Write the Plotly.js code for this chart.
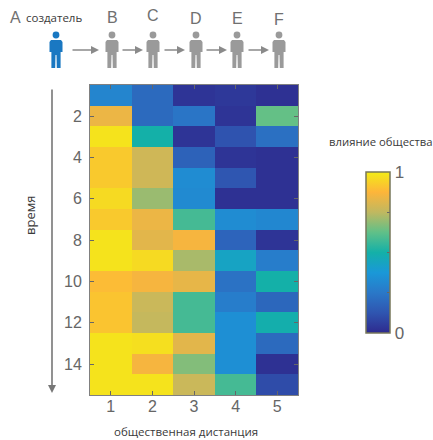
<!DOCTYPE html>
<html><head><meta charset="utf-8">
<script src="https://cdn.plot.ly/plotly-3.0.1.min.js"></script>
<style>html,body{margin:0;padding:0;background:#fff}#c{width:433px;height:440px}</style></head>
<body><div id="c"></div>
<script>
const distance = [1,2,3,4,5];
const time = [1,2,3,4,5,6,7,8,9,10,11,12,13,14,15];
const influence = [
 [0.30,0.20,0.03,0.04,0.02],
 [0.84,0.20,0.24,0.03,0.63],
 [0.98,0.50,0.03,0.12,0.22],
 [0.92,0.78,0.17,0.03,0.02],
 [0.92,0.78,0.33,0.13,0.02],
 [0.96,0.70,0.32,0.02,0.02],
 [0.92,0.84,0.58,0.33,0.31],
 [0.98,0.82,0.86,0.18,0.03],
 [0.98,0.96,0.72,0.43,0.27],
 [0.89,0.86,0.83,0.23,0.50],
 [0.91,0.77,0.58,0.27,0.19],
 [0.91,0.76,0.58,0.34,0.49],
 [0.98,0.97,0.82,0.34,0.20],
 [0.98,0.86,0.67,0.34,0.02],
 [0.98,0.98,0.77,0.58,0.10]
];
const yTicks = [2,4,6,8,10,12,14];
const people = ['B','C','D','E','F'];
const peopleX = [112,153,196,237,279];
const peopleLabelY = [17,16,18,18,20];
const creatorX = 56;
const arrowSpans = [[71,99],[121,143],[163,185],[205,227],[247,269]];
const scale = [[0,'#2e2a8e'],[0.125,'#2f55b0'],[0.25,'#2a78c8'],[0.375,'#1a98d8'],[0.5,'#14b0a8'],[0.625,'#60c088'],[0.75,'#c0b860'],[0.875,'#fdb53a'],[1,'#f3ec16']];
const W=433,H=440,L=90,T=85,PW=208,PH=310;
const grey='#9a9a9a', blue='#1a78c2', txt='#3a3a3a';
function px(x){return (x-L)/PW} function py(y){return (T+PH-y)/PH}
function person(cx,col){
  const p=(d)=>({type:'path',xref:'paper',yref:'paper',path:d,fillcolor:col,line:{width:0},layer:'above'});
  const X=v=>px(cx+v).toFixed(5), Y=v=>py(v).toFixed(5);
  const out=[];
  out.push({type:'circle',xref:'paper',yref:'paper',x0:px(cx-3.4),x1:px(cx+3.4),y0:py(38.4),y1:py(31.6),fillcolor:col,line:{width:0},layer:'above'});
  out.push(p(`M${X(-5)},${Y(40)} L${X(5)},${Y(40)} L${X(6.5)},${Y(42)} L${X(6.5)},${Y(52)} L${X(4.6)},${Y(52)} L${X(4.6)},${Y(68)} L${X(0.8)},${Y(68)} L${X(0.5)},${Y(55)} L${X(-0.5)},${Y(55)} L${X(-0.8)},${Y(68)} L${X(-4.6)},${Y(68)} L${X(-4.6)},${Y(52)} L${X(-6.5)},${Y(52)} L${X(-6.5)},${Y(42)} Z`));
  return out;
}
let shapes=[];
shapes=shapes.concat(person(creatorX,blue));
peopleX.forEach(x=>{shapes=shapes.concat(person(x,grey))});
const ann=[];
const t=(x,y,text,size,extra)=>ann.push(Object.assign({xref:'paper',yref:'paper',x:px(x),y:py(y),text,showarrow:false,font:{size,color:txt,family:'Open Sans, sans-serif'},xanchor:'center',yanchor:'middle'},extra||{}));
const letterFont={size:16,color:'#707070',family:'Liberation Sans, sans-serif'};
t(15,17,'A',16,{font:letterFont});
t(54,17,'создатель',11.5);
peopleX.forEach((x,i)=>t(x,peopleLabelY[i],people[i],16,{font:letterFont}));
t(186,431,'общественная дистанция',11.5);
t(381,141,'влияние общества',11.3);
t(30,216,'время',13,{textangle:-90});
arrowSpans.forEach(s=>ann.push({xref:'paper',yref:'paper',axref:'paper',ayref:'paper',x:px(s[1]),y:py(50),ax:px(s[0]),ay:py(50),text:'',showarrow:true,arrowhead:2,arrowsize:1,arrowwidth:1.6,arrowcolor:'#8a8a8a'}));
ann.push({xref:'paper',yref:'paper',axref:'paper',ayref:'paper',x:px(52),y:py(393),ax:px(52),ay:py(88),text:'',showarrow:true,arrowhead:2,arrowsize:1,arrowwidth:1.6,arrowcolor:'#777'});
const axisFont={size:16,color:'#666',family:'Liberation Sans, sans-serif'};
Plotly.newPlot('c',[{type:'heatmap',x:distance,y:time,z:influence,zmin:0,zmax:1,colorscale:scale,
  xgap:0,ygap:0,hoverinfo:'skip',
  colorbar:{x:px(366),xanchor:'left',y:py(333),yanchor:'bottom',len:161,lenmode:'pixels',thickness:24,thicknessmode:'pixels',xpad:0,ypad:0,
    tickmode:'array',tickvals:[0,0.25,0.5,0.75,1],ticktext:['0','','','','1'],ticks:'inside',ticklen:3,tickcolor:'#666',
    tickfont:{size:17,color:'#666',family:'Liberation Sans, sans-serif'},outlinecolor:'#77775a',outlinewidth:1.5,borderwidth:0}
}],{
  width:W,height:H,paper_bgcolor:'#fff',plot_bgcolor:'#fff',showlegend:false,
  margin:{l:L,r:W-L-PW,t:T,b:H-T-PH,pad:0},
  xaxis:{range:[0.5,5.5],tickmode:'array',tickvals:distance,ticks:'inside',ticklen:4,tickcolor:'#666',tickfont:axisFont,ticklabelstandoff:-3,mirror:'ticks',showline:true,linecolor:'#808080',linewidth:1,showgrid:false,zeroline:false},
  yaxis:{range:[15.5,0.5],tickmode:'array',tickvals:yTicks,ticks:'inside',ticklen:4,tickcolor:'#666',tickfont:axisFont,ticklabelstandoff:4,mirror:'ticks',showline:true,linecolor:'#808080',linewidth:1,showgrid:false,zeroline:false},
  shapes,annotations:ann
},{displayModeBar:false,staticPlot:true});
</script></body></html>
